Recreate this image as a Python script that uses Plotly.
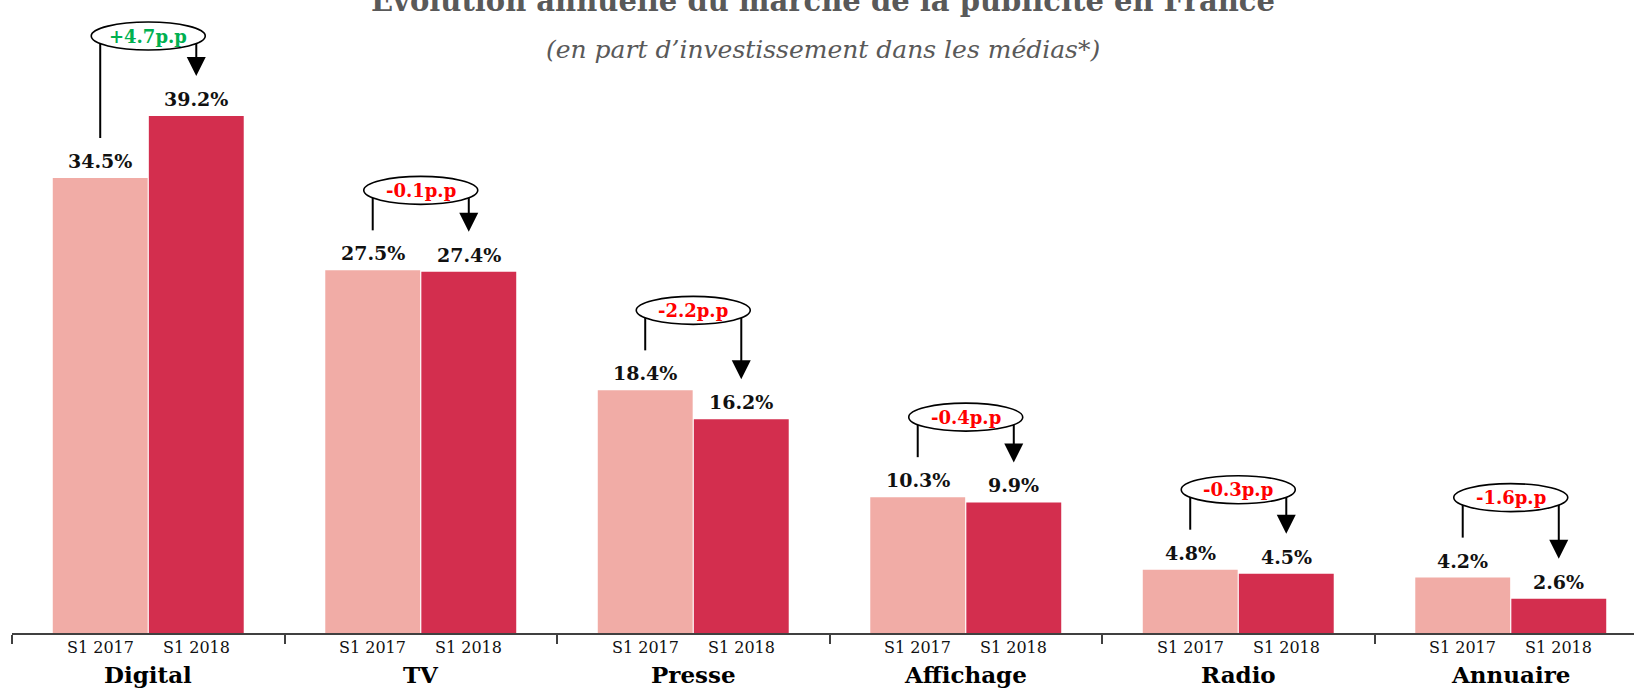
import plotly.graph_objects as go

# ---- data ----
categories = ["Digital", "TV", "Presse", "Affichage", "Radio", "Annuaire"]
s1_2017 = [34.5, 27.5, 18.4, 10.3, 4.8, 4.2]
s1_2018 = [39.2, 27.4, 16.2, 9.9, 4.5, 2.6]
period_labels = ["S1 2017", "S1 2018"]
title_text = "Évolution annuelle du marché de la publicité en France"
subtitle_text = "(en part d’investissement dans les médias*)"

# ---- style / layout constants ----
W, H = 1634, 690
ML, MB = 12, 57
PLOT_H = H - MB
YMAX = 48.0
PPU = PLOT_H / YMAX  # pixels per unit
CAT_PX = 272.5
XMAX = -0.5 + (W - ML) / CAT_PX
BARGAP = 0.295
OFF = (1 - BARGAP) / 4  # bar center offset from category center
C17 = "#F1ACA6"
C18 = "#D32E4E"
SERIF = "DejaVu Serif"

x = list(range(len(categories)))

fig = go.Figure()
fig.add_trace(go.Bar(x=x, y=s1_2017, name=period_labels[0], marker_color=C17,
                     marker_line_width=0, hoverinfo="skip"))
fig.add_trace(go.Bar(x=x, y=s1_2018, name=period_labels[1], marker_color=C18,
                     marker_line_width=0, hoverinfo="skip"))

ann = []
shapes = []
for i, (cat, a, b) in enumerate(zip(categories, s1_2017, s1_2018)):
    xa, xb = i - OFF, i + OFF
    # value labels
    for xv, v in ((xa, a), (xb, b)):
        ann.append(dict(x=xv, y=v, text=f"<b>{v:.1f}%</b>", showarrow=False,
                        yanchor="middle", yshift=17,
                        font=dict(family=SERIF, size=19, color="#111111")))
    # period labels under axis
    for xv, lab in ((xa, period_labels[0]), (xb, period_labels[1])):
        ann.append(dict(x=xv, y=0, text=lab, showarrow=False, yanchor="middle",
                        yshift=-14, font=dict(family=SERIF, size=16, color="#111111")))
    # category label
    ann.append(dict(x=i, y=0, text=f"<b>{cat}</b>", showarrow=False, yanchor="middle",
                    yshift=-41, font=dict(family=SERIF, size=23, color="#000000")))
    # change oval
    d = round(b - a, 1)
    txt = f"{d:+.1f}p.p"
    col = "#00B050" if d > 0 else "#FF0000"
    yc = max(a, b) + 80 / PPU
    # left line (from 2017 bar up to oval)
    shapes.append(dict(type="line", xref="x", yref="y", x0=xa, x1=xa,
                       y0=a + 40 / PPU, y1=yc, line=dict(color="black", width=2)))
    # right line down to arrow
    shapes.append(dict(type="line", xref="x", yref="y", x0=xb, x1=xb,
                       y0=yc, y1=b + 52 / PPU, line=dict(color="black", width=2)))
    # oval
    shapes.append(dict(type="circle", xref="x", yref="y", xsizemode="pixel",
                       ysizemode="pixel", xanchor=i, yanchor=yc,
                       x0=-57, x1=57, y0=-14, y1=14,
                       fillcolor="white", line=dict(color="black", width=1.6)))
    ann.append(dict(x=i, y=yc, text=f"<b>{txt}</b>", showarrow=False,
                    font=dict(family=SERIF, size=18, color=col)))
    # arrowhead
    ann.append(dict(x=xb, y=b + 40 / PPU, ax=xb, ay=b + 58 / PPU, axref="x", ayref="y",
                    xref="x", yref="y", text="", showarrow=True, arrowhead=2,
                    arrowsize=1.9, arrowwidth=2, arrowcolor="black"))

# title & subtitle
ann.append(dict(xref="paper", yref="paper", x=0.5, y=1, yanchor="middle", yshift=0,
                text=f"<b>{title_text}</b>", showarrow=False,
                font=dict(family=SERIF, size=29, color="#595959")))
ann.append(dict(xref="paper", yref="paper", x=0.5, y=1, yanchor="middle", yshift=-49,
                text=f"<i>{subtitle_text}</i>", showarrow=False,
                font=dict(family=SERIF, size=25, color="#595959")))

fig.update_layout(
    width=W, height=H,
    margin=dict(l=ML, r=0, t=0, b=MB),
    paper_bgcolor="white", plot_bgcolor="white",
    barmode="group", bargap=BARGAP, bargroupgap=0.012,
    showlegend=False,
    annotations=ann, shapes=shapes,
    xaxis=dict(range=[-0.5, XMAX], showgrid=False, zeroline=False,
               showline=True, linecolor="#404040", linewidth=2,
               tickmode="array", tickvals=[i - 0.5 for i in range(len(categories))],
               ticks="outside", ticklen=9, tickwidth=1.5, tickcolor="#404040",
               showticklabels=False, fixedrange=True),
    yaxis=dict(range=[0, YMAX], visible=False, fixedrange=True),
)

fig.write_html("out.html", config={"displayModeBar": False},
               post_script="document.body.style.margin='0';document.body.style.overflow='hidden';")
